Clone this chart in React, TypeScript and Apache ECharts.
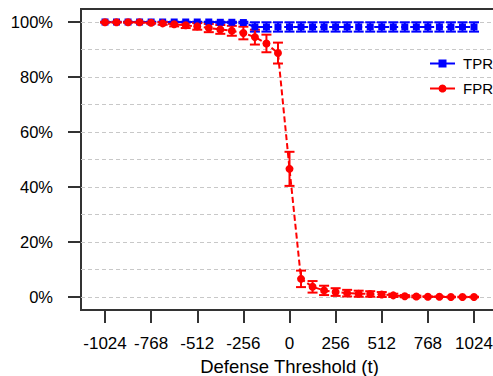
import React, { useEffect, useRef } from "react";
import * as echarts from "echarts";

const thresholds = [-1024, -960, -896, -832, -768, -704, -640, -576, -512, -448, -384, -320, -256, -192, -128, -64, 0, 64, 128, 192, 256, 320, 384, 448, 512, 576, 640, 704, 768, 832, 896, 960, 1024];
const xTicks = [-1024, -768, -512, -256, 0, 256, 512, 768, 1024];
const yTicks = [0, 20, 40, 60, 80, 100];

const tprMean = [100, 100, 100, 100, 100, 100, 100, 100, 100, 100, 99.9, 99.9, 99.8, 98.2, 98.2, 98.2, 98.2, 98.2, 98.2, 98.2, 98.2, 98.2, 98.2, 98.2, 98.2, 98.2, 98.2, 98.2, 98.2, 98.2, 98.2, 98.2, 98.2];
const tprErr = [0.1, 0.1, 0.1, 0.1, 0.1, 0.1, 0.1, 0.1, 0.1, 0.1, 0.2, 0.2, 0.3, 1.7, 1.7, 1.7, 1.7, 1.7, 1.7, 1.7, 1.7, 1.7, 1.7, 1.7, 1.7, 1.7, 1.7, 1.7, 1.7, 1.7, 1.7, 1.7, 1.7];
const fprMean = [99.9, 99.9, 99.9, 99.9, 99.7, 99.5, 99.2, 98.8, 98.4, 97.8, 97.3, 96.8, 96.0, 94.5, 92.2, 88.7, 46.6, 6.6, 3.7, 2.4, 1.8, 1.4, 1.2, 1.1, 0.9, 0.6, 0.3, 0.2, 0.1, 0.1, 0, 0, 0];
const fprErr = [0.1, 0.1, 0.1, 0.1, 0.3, 0.5, 0.8, 1.0, 1.2, 1.5, 1.6, 1.8, 2.3, 2.7, 3.2, 3.8, 6.2, 3.0, 2.1, 1.7, 1.4, 1.2, 1.1, 1.0, 0.9, 0.6, 0.4, 0.3, 0.1, 0.1, 0.1, 0.1, 0.1];

const BLUE = "#0000ff";
const RED = "#ff0000";
const FONT = "'Liberation Sans', Arial, Helvetica, sans-serif";

function errSeries(name: string, mean: number[], err: number[], color: string) {
  return {
    type: "custom",
    name,
    xAxisIndex: 0,
    yAxisIndex: 0,
    clip: false,
    silent: true,
    data: thresholds.map((t, i) => [t, mean[i] - err[i], mean[i] + err[i]]),
    renderItem: (params: any, api: any) => {
      const x = api.value(0);
      const top = api.coord([x, api.value(2)]);
      const bot = api.coord([x, api.value(1)]);
      const w = 5;
      const style = { stroke: color, lineWidth: 2 };
      return {
        type: "group",
        children: [
          { type: "line", shape: { x1: top[0], y1: top[1], x2: bot[0], y2: bot[1] }, style },
          { type: "line", shape: { x1: top[0] - w, y1: top[1], x2: top[0] + w, y2: top[1] }, style },
          { type: "line", shape: { x1: bot[0] - w, y1: bot[1], x2: bot[0] + w, y2: bot[1] }, style },
        ],
      };
    },
  };
}

export default function App() {
  const ref = useRef<HTMLDivElement>(null);
  useEffect(() => {
    if (!ref.current) return;
    const chart = echarts.init(ref.current, null, { renderer: "svg" });
    chart.setOption({
      animation: false,
      backgroundColor: "#ffffff",
      textStyle: { fontFamily: FONT },
      grid: [
        { left: 105, top: 22, width: 369, height: 275, outerBoundsMode: "none", containLabel: false },
        { left: 81, top: 9, width: 417, height: 301, show: true, borderColor: "#333", borderWidth: 2, backgroundColor: "transparent", outerBoundsMode: "none", containLabel: false },
        { left: 81, top: 22, width: 417, height: 275, outerBoundsMode: "none", containLabel: false },
      ],
      xAxis: [
        {
          type: "value",
          gridIndex: 0,
          min: xTicks[0],
          max: xTicks[xTicks.length - 1],
          interval: 256,
          offset: 13,
          position: "bottom",
          axisLine: { show: false, onZero: false },
          axisTick: { show: true, length: 13, lineStyle: { color: "#333", width: 2 } },
          axisLabel: { margin: 25, fontSize: 17, color: "#000", fontFamily: FONT, formatter: (v: number) => String(v) },
          splitLine: { show: false },
          name: "Defense Threshold (t)",
          nameLocation: "middle",
          nameGap: 46,
          nameTextStyle: { fontSize: 18.5, color: "#000", fontFamily: FONT },
        },
        { type: "value", gridIndex: 1, show: false, min: 0, max: 1 },
        { type: "value", gridIndex: 2, show: false, min: 0, max: 1 },
      ],
      yAxis: [
        {
          type: "value",
          gridIndex: 0,
          min: yTicks[0],
          max: yTicks[yTicks.length - 1],
          interval: 20,
          offset: 24,
          position: "left",
          axisLine: { show: false, onZero: false },
          axisTick: { show: true, length: 13, lineStyle: { color: "#333", width: 2 } },
          axisLabel: { margin: 28, fontSize: 16.5, color: "#000", fontFamily: FONT, formatter: (v: number) => v + "%" },
          splitLine: { show: false },
        },
        { type: "value", gridIndex: 1, show: false, min: 0, max: 1 },
        {
          type: "value",
          gridIndex: 2,
          min: 0,
          max: 100,
          interval: 10,
          axisLine: { show: false, onZero: false },
          axisTick: { show: false },
          axisLabel: { show: false },
          splitLine: { show: true, lineStyle: { color: "#c8c8c8", width: 1, type: [4, 3] } },
        },
      ],
      legend: {
        data: ["TPR", "FPR"],
        orient: "vertical",
        left: 424,
        top: 51,
        itemWidth: 25,
        itemHeight: 10,
        itemGap: 10,
        lineStyle: { type: "solid", width: 2 },
        textStyle: { fontSize: 15, color: "#000", fontFamily: FONT, padding: [0, 0, 0, 3], lineHeight: 15 },
      },
      series: [
        errSeries("TPR err", tprMean, tprErr, BLUE),
        {
          type: "line",
          name: "TPR",
          xAxisIndex: 0,
          yAxisIndex: 0,
          clip: false,
          data: thresholds.map((t, i) => [t, tprMean[i]]),
          symbol: "rect",
          symbolSize: 7,
          showAllSymbol: true,
          itemStyle: { color: BLUE },
          lineStyle: { color: BLUE, width: 2, type: [6, 3] },
        },
        errSeries("FPR err", fprMean, fprErr, RED),
        {
          type: "line",
          name: "FPR",
          xAxisIndex: 0,
          yAxisIndex: 0,
          clip: false,
          data: thresholds.map((t, i) => [t, fprMean[i]]),
          symbol: "circle",
          symbolSize: 8,
          showAllSymbol: true,
          itemStyle: { color: RED },
          lineStyle: { color: RED, width: 2, type: [6, 3] },
        },
      ],
    });
    return () => chart.dispose();
  }, []);
  return (
    <div style={{ position: "fixed", left: 0, top: 0, width: 493, height: 376, overflow: "hidden", background: "#fff" }}>
      <div ref={ref} style={{ width: 520, height: 376 }} />
    </div>
  );
}
